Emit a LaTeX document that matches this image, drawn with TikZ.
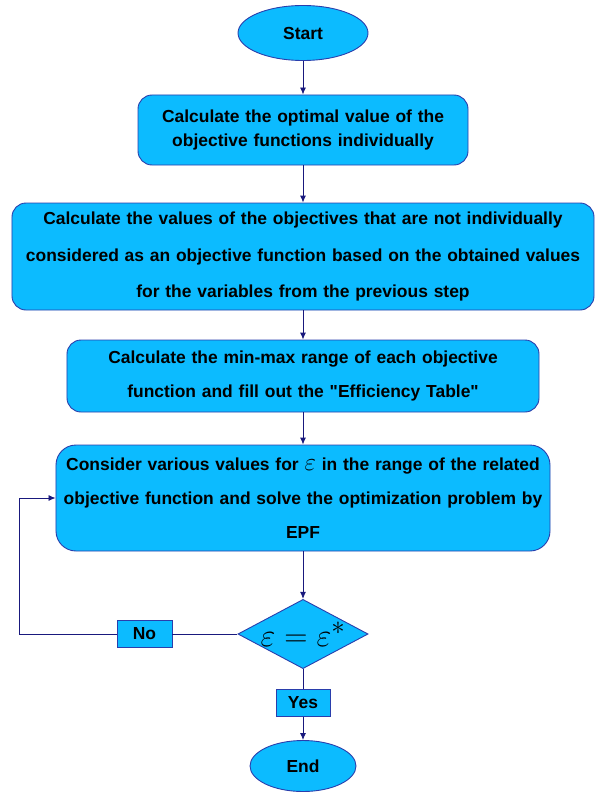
\documentclass[tikz,border=0pt]{standalone}
\usepackage{graphicx}
\usepackage{fontspec}
\setmainfont{Liberation Sans}[Ligatures=TeXOff]
\usetikzlibrary{arrows.meta}
\usetikzlibrary{shapes.geometric}
\definecolor{boxfill}{RGB}{12,187,255}
\definecolor{boxline}{RGB}{42,62,172}
\definecolor{darkblue}{RGB}{25,25,125}

\begin{document}
\begin{tikzpicture}[x=1bp,y=-1bp,
    flow/.style={fill=boxfill,draw=boxline,line width=0.9bp,inner sep=0pt,
        font=\bfseries\fontsize{17.5}{21}\selectfont},
    stepbox/.style={flow,rounded corners=14bp,align=center,inner xsep=10bp},
    label box/.style={flow,minimum height=27bp},
    link/.style={darkblue,line width=0.9bp},
    arrow/.style={link,-{Latex[length=7bp,width=6bp]}}]
\useasboundingbox (0,0) rectangle (596,792);
\node[flow,ellipse,minimum width=130bp,minimum height=55bp] (start) at (303,33) {Start};
\node[stepbox,text width=310bp,minimum height=70bp,
    font=\bfseries\fontsize{17.5}{25}\selectfont] (optimal) at (303,130)
    {Calculate the optimal value of the\\objective functions individually};
\node[stepbox,text width=562bp,minimum height=107bp,
    font=\bfseries\fontsize{17.5}{37}\selectfont] (values) at (303,256.5)
    {Calculate the values of the objectives that are not individually\\
     considered as an objective function based on the obtained values\\
     for the variables from the previous step};
\node[stepbox,text width=452bp,minimum height=72bp,
    font=\bfseries\fontsize{17.5}{35}\selectfont] (range) at (303,376)
    {Calculate the min-max range of each objective\\
     function and fill out the "Efficiency Table"};
\node[stepbox,text width=490bp,inner xsep=2bp,minimum height=106bp,rounded corners=20bp,
    font=\bfseries\fontsize{17.5}{34}\selectfont] (solve) at (303,498)
    {Consider various values for \scalebox{1.45}{$\varepsilon$} in the range of the related\\
     objective function and solve the optimization problem by\\
     EPF};
\node[flow,diamond,aspect=1.88,minimum width=130bp,minimum height=69bp] (check) at (303,634)
    {\scalebox{1.3}{\fontsize{24.88}{26}\selectfont$\varepsilon=\varepsilon^*$}};
\node[label box,minimum width=55bp] (no) at (144.5,634) {No};
\node[label box,minimum width=54bp] (yes) at (303,703) {Yes};
\node[flow,ellipse,minimum width=106bp,minimum height=51bp] (finish) at (303,766) {End};
\coordinate (loop) at (19,634);

\draw[arrow] (start) -- (optimal);
\draw[arrow] (optimal) -- (values);
\draw[arrow] (values) -- (range);
\draw[arrow] (range) -- (solve);
\draw[arrow] (solve) -- (check);
\draw[link] (check) -- (no);
\draw[arrow] (no) -- (loop) |- (solve.west);
\draw[link] (check) -- (yes);
\draw[arrow] (yes) -- (finish);
\end{tikzpicture}
\end{document}
